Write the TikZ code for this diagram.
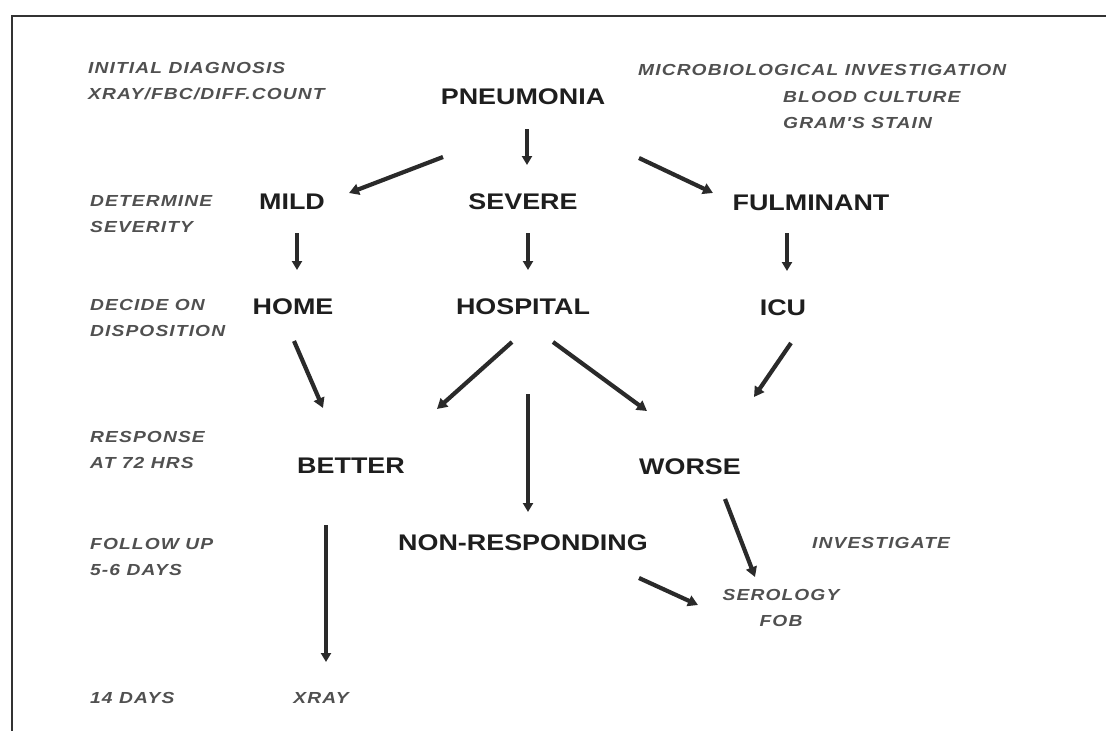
\documentclass[tikz,border=0pt]{standalone}
\usepackage{fontspec}
\usetikzlibrary{calc,arrows.meta}
\newfontfamily\mainbold{Liberation Sans Bold}[FakeStretch=1.19]
\newfontfamily\labfont{Liberation Sans Bold Italic}[FakeStretch=1.2,LetterSpace=7]
\definecolor{inkc}{HTML}{1E1E1E}
\definecolor{labc}{HTML}{505050}
\definecolor{arrc}{HTML}{2A2A2A}
\tikzset{
  stage/.style={inner sep=0pt, text=inkc, font=\mainbold\fontsize{22.6}{26}\selectfont},
  note/.style={inner sep=0pt, text=labc, align=left, font=\labfont\fontsize{16}{26.5}\selectfont},
  notec/.style={inner sep=0pt, text=labc, align=center, font=\labfont\fontsize{16}{26.5}\selectfont},
  flow/.style={draw=arrc, line width=4.2pt, -{Triangle[length=10pt,width=11pt]}},
  vflow/.style={draw=arrc, line width=3.8pt, -{Triangle[length=9pt,width=10pt]}}
}
\begin{document}
\begin{tikzpicture}[x=1pt,y=-1pt]
\useasboundingbox (0,0) rectangle (1106,731);
% frame
\draw[line width=2pt, draw=black!80] (1106,16) -- (12,16) -- (12,731);

% main stages
\node[stage] (pn) at (523,97) {PNEUMONIA};
\node[stage] (mild) at (292,202) {MILD};
\node[stage] (severe) at (523,202) {SEVERE};
\node[stage] (ful) at (811,203) {FULMINANT};
\node[stage] (home) at (293,307) {HOME};
\node[stage] (hosp) at (523,307) {HOSPITAL};
\node[stage] (icu) at (783,308) {ICU};
\node[stage] (better) at (351,466) {BETTER};
\node[stage] (worse) at (690,467) {WORSE};
\node[stage] (nr) at (523,543) {NON-RESPONDING};

% notes
\node[note, anchor=north west] (diag) at (88,62) {INITIAL DIAGNOSIS\\XRAY/FBC/DIFF.COUNT};
\node[note, anchor=north west] (sevlab) at (90,195) {DETERMINE\\SEVERITY};
\node[note, anchor=north west] (displab) at (90,299) {DECIDE ON\\DISPOSITION};
\node[note, anchor=north west] (resplab) at (90,431) {RESPONSE\\AT 72 HRS};
\node[note, anchor=north west] (follab) at (90,538) {FOLLOW UP\\5-6 DAYS};
\node[note, anchor=north west] (days) at (90,692) {14 DAYS};
\node[note, anchor=north] (xray) at (321,692) {XRAY};
\node[note, anchor=north west] (micro) at (638,64) {MICROBIOLOGICAL INVESTIGATION};
\node[note, anchor=north west] (cult) at (783,91) {BLOOD CULTURE\\GRAM'S STAIN};
\node[note, anchor=north west] (invest) at (812,537) {INVESTIGATE};
\node[notec, anchor=north] (ser) at (781,589) {SEROLOGY\\FOB};

% connectors
\draw[flow] ($(pn)+(-80,60)$) -- ($(mild)+(57,-9)$);
\draw[vflow] ($(pn)+(4,32)$) -- ($(severe)+(4,-37)$);
\draw[flow] ($(pn)+(116,61)$) -- ($(ful)+(-98,-10)$);
\draw[vflow] ($(mild)+(5,31)$) -- ($(home)+(4,-37)$);
\draw[vflow] ($(severe)+(5,31)$) -- ($(hosp)+(5,-37)$);
\draw[vflow] ($(ful)+(-24,30)$) -- ($(icu)+(4,-37)$);
\draw[flow] ($(home)+(1,34)$) -- ($(better)+(-28,-58)$);
\draw[flow] ($(hosp)+(-11,35)$) -- ($(better)+(86,-57)$);
\draw[vflow] ($(hosp)+(5,87)$) -- ($(nr)+(5,-31)$);
\draw[flow] ($(hosp)+(30,35)$) -- ($(worse)+(-43,-56)$);
\draw[flow] ($(icu)+(8,35)$) -- ($(worse)+(64,-70)$);
\draw[vflow] ($(better)+(-25,59)$) -- ($(xray.north)+(5,-30)$);
\draw[flow] ($(worse)+(35,32)$) -- ($(ser.north)+(-26,-12)$);
\draw[flow] ($(nr)+(116,35)$) -- ($(ser.north)+(-83,16)$);
\end{tikzpicture}
\end{document}
